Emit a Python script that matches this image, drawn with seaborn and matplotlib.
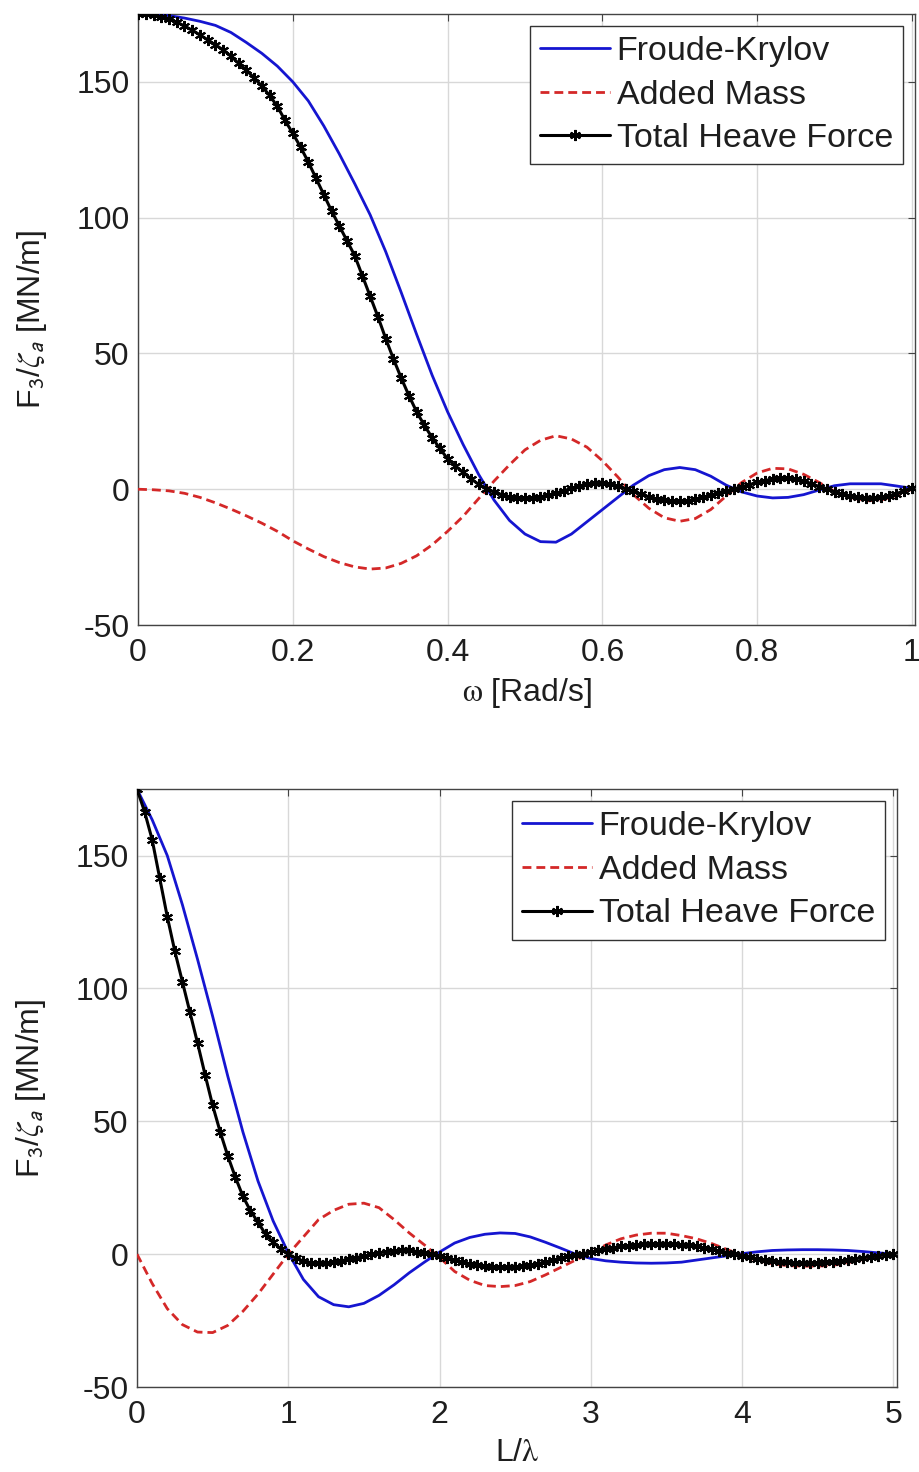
import numpy as np
import pandas as pd
import matplotlib
matplotlib.use("Agg")
import matplotlib.pyplot as plt
import seaborn as sns

# ---------------- data: top panel (omega [rad/s]) ----------------
omega_fa = [0.00, 0.02, 0.04, 0.06, 0.08, 0.10, 0.12, 0.14, 0.16, 0.18,
            0.20, 0.22, 0.24, 0.26, 0.28, 0.30, 0.32, 0.34, 0.36, 0.38,
            0.40, 0.42, 0.44, 0.46, 0.48, 0.50, 0.52, 0.54, 0.56, 0.58,
            0.60, 0.62, 0.64, 0.66, 0.68, 0.70, 0.72, 0.74, 0.76, 0.78,
            0.80, 0.82, 0.84, 0.86, 0.88, 0.90, 0.92, 0.94, 0.96, 0.98, 1.00]
fk_top = [175.0, 174.9, 174.4, 173.5, 172.3, 170.8, 168.2, 164.5, 160.5, 155.8,
          150.0, 143.0, 133.8, 123.5, 112.5, 101.0, 87.5, 72.5, 57.0, 42.0,
          28.5, 16.5, 5.5, -4.0, -11.5, -16.5, -19.3, -19.5, -16.5, -12.0,
          -7.5, -3.0, 1.5, 5.0, 7.2, 8.0, 7.2, 4.8, 1.5, -1.0,
          -2.5, -3.2, -3.0, -2.0, -0.3, 1.3, 2.0, 2.0, 2.0, 1.2, 0.3]
am_top = [0.0, -0.2, -0.6, -1.5, -3.0, -5.0, -7.3, -9.8, -12.5, -15.5,
          -19.0, -22.0, -24.8, -27.0, -28.6, -29.4, -29.0, -27.3, -24.5, -20.5,
          -15.5, -10.0, -3.5, 3.0, 9.0, 14.5, 18.0, 19.7, 18.5, 15.5,
          10.5, 4.5, -2.0, -7.0, -10.5, -11.8, -10.8, -7.5, -2.5, 2.5,
          6.0, 7.7, 7.5, 5.5, 2.5, -0.8, -3.0, -4.3, -4.0, -2.3, 0.0]

omega_tot = [round(0.01 * i, 2) for i in range(101)]
tot_top = [175.0, 174.9, 174.6, 174.0, 173.2, 172.0, 170.6, 169.0, 167.3, 165.5,
           163.6, 161.8, 159.5, 156.8, 154.3, 151.5, 148.4, 145.0, 141.0, 135.8,
           131.0, 126.0, 120.5, 114.5, 108.5, 102.5, 97.0, 91.5, 86.0, 78.5,
           71.0, 63.5, 55.5, 48.0, 41.0, 34.5, 28.5, 23.5, 19.0, 15.0,
           11.2, 8.6, 6.2, 3.9, 1.8, 0.2, -1.0, -2.0, -2.8, -3.2,
           -3.3, -3.2, -2.8, -2.2, -1.5, -0.6, 0.3, 1.2, 1.8, 2.2,
           2.2, 1.8, 1.1, 0.2, -0.8, -1.8, -2.8, -3.6, -4.1, -4.4,
           -4.4, -4.2, -3.7, -3.0, -2.2, -1.3, -0.6, 0.1, 0.9, 1.7,
           2.5, 3.2, 3.7, 4.0, 4.0, 3.7, 3.0, 2.1, 1.0, 0.0,
           -1.0, -1.8, -2.5, -3.0, -3.3, -3.3, -3.0, -2.5, -1.6, -0.6, 0.5]

# ---------------- data: bottom panel (L / lambda) ----------------
llam_fa = [round(0.1 * i, 1) for i in range(51)]
fk_bot = [175.0, 163.5, 150.0, 131.5, 111.0, 89.5, 67.0, 46.0, 27.5, 12.5,
          0.5, -9.5, -16.0, -19.0, -19.8, -18.5, -15.5, -11.5, -7.0, -3.0,
          0.8, 4.2, 6.3, 7.5, 8.0, 7.8, 6.5, 4.5, 2.3, 0.0,
          -1.6, -2.5, -3.0, -3.3, -3.4, -3.3, -3.0, -2.2, -1.4, -0.6,
          0.2, 0.9, 1.4, 1.6, 1.7, 1.7, 1.6, 1.4, 1.0, 0.5, 0.1]
am_bot = [0.0, -11.0, -20.5, -26.5, -29.3, -29.5, -26.8, -21.5, -15.0, -7.5,
          0.0, 6.5, 13.0, 16.5, 18.8, 19.2, 17.5, 13.0, 8.0, 3.5,
          -1.2, -6.5, -9.8, -11.8, -12.2, -11.8, -10.3, -7.8, -5.0, -2.2,
          0.5, 3.5, 5.8, 7.2, 7.9, 7.9, 7.0, 5.8, 4.0, 1.8,
          -0.5, -2.3, -3.6, -4.3, -4.5, -4.5, -4.2, -3.2, -2.0, -0.8, 0.0]

llam_tot = [round(0.05 * i, 2) for i in range(101)]
tot_bot = [175.0, 166.5, 156.0, 141.5, 127.0, 114.0, 102.5, 91.0, 79.5, 67.5,
           56.0, 46.0, 37.0, 29.0, 21.8, 16.3, 12.0, 7.5, 4.5, 2.0,
           0.0, -1.5, -2.6, -3.2, -3.4, -3.3, -3.0, -2.5, -1.9, -1.3,
           -0.7, -0.1, 0.5, 1.0, 1.3, 1.5, 1.4, 1.0, 0.5, 0.0,
           -0.6, -1.4, -2.2, -3.0, -3.7, -4.2, -4.6, -4.8, -4.9, -4.9,
           -4.8, -4.6, -4.2, -3.6, -3.0, -2.3, -1.6, -0.8, -0.3, 0.2,
           0.8, 1.4, 1.9, 2.4, 2.9, 3.2, 3.5, 3.7, 3.8, 3.9,
           3.9, 3.8, 3.6, 3.3, 2.9, 2.4, 1.8, 1.2, 0.6, 0.1,
           -0.5, -1.1, -1.7, -2.2, -2.6, -2.9, -3.1, -3.2, -3.3, -3.3,
           -3.2, -3.1, -2.9, -2.6, -2.2, -1.7, -1.3, -0.9, -0.5, -0.2, 0.1]

series_labels = ["Froude-Krylov", "Added Mass", "Total Heave Force"]
yticks = [-50, 0, 50, 100, 150]
xticks_top = [0, 0.2, 0.4, 0.6, 0.8, 1]
xtick_labels_top = ["0", "0.2", "0.4", "0.6", "0.8", "1"]
xticks_bot = [0, 1, 2, 3, 4, 5]

# ---------------- style ----------------
sns.set_style("white")
plt.rcParams["font.family"] = ["Liberation Sans", "DejaVu Sans"]
plt.rcParams["mathtext.fontset"] = "stix"
plt.rcParams["axes.unicode_minus"] = False
FS = 23
LFS = 24.5

BLUE = "#1515d0"
RED = "#d42828"
BLACK = "#000000"
TXT = "#1e1e1e"

fig = plt.figure(figsize=(9.19, 14.72), dpi=100)
ax1 = fig.add_axes([0.1502, 0.5754, 0.8455, 0.4151])
ax2 = fig.add_axes([0.1491, 0.0577, 0.8270, 0.4062])


def draw(ax, xfa, fk, am, xt, tot):
    df_fa = pd.DataFrame({"x": xfa, "fk": fk, "am": am})
    df_t = pd.DataFrame({"x": xt, "tot": tot})
    sns.lineplot(data=df_fa, x="x", y="fk", ax=ax, color=BLUE, lw=2.0,
                 label=series_labels[0], zorder=3)
    sns.lineplot(data=df_fa, x="x", y="am", ax=ax, color=RED, lw=2.0,
                 linestyle=(0, (3.2, 1.8)), label=series_labels[1], zorder=3)
    sns.lineplot(data=df_t, x="x", y="tot", ax=ax, color=BLACK, lw=2.2,
                 marker=(6, 2, 0), markersize=8, markeredgewidth=1.5,
                 markeredgecolor=BLACK, label=series_labels[2], zorder=4)


draw(ax1, omega_fa, fk_top, am_top, omega_tot, tot_top)
draw(ax2, llam_fa, fk_bot, am_bot, llam_tot, tot_bot)

for ax in (ax1, ax2):
    ax.set_ylim(-50, 175)
    ax.set_yticks(yticks)
    ax.grid(True, color="#d8d8d8", lw=1.0)
    ax.set_axisbelow(True)
    for s in ax.spines.values():
        s.set_color("#444444")
        s.set_linewidth(1.0)
        s.set_visible(True)
    ax.tick_params(direction="in", length=5, width=0.8, colors="#444444",
                   top=True, right=True, labelsize=FS, labelcolor=TXT)
    ax.tick_params(axis="x", pad=9)
    ax.tick_params(axis="y", pad=6)
    ax.set_ylabel(r"F$_\mathsf{3}$/$\zeta_\mathsf{a}$ [MN/m]", fontsize=FS,
                  color=TXT, labelpad=20)
    leg = ax.legend(loc="upper right", fontsize=LFS, frameon=True,
                    fancybox=False, framealpha=1.0, edgecolor="#333333",
                    handlelength=2.05, handletextpad=0.2, labelspacing=0.37,
                    borderaxespad=0.35, borderpad=0.3, numpoints=1)
    leg.get_frame().set_linewidth(1.0)
    for t in leg.get_texts():
        t.set_color(TXT)

ax1.set_xlim(0, 1.004)
ax1.set_xticks(xticks_top)
ax1.set_xticklabels(xtick_labels_top)
ax1.set_xlabel(r"$\mathrm{\omega}$ [Rad/s]", fontsize=FS, color=TXT,
               labelpad=6)

ax2.set_xlim(0, 5.025)
ax2.set_xticks(xticks_bot)
ax2.set_xlabel(r"L/$\mathrm{\lambda}$", fontsize=FS, color=TXT,
               labelpad=6)

fig.savefig("out.png", dpi=100)
